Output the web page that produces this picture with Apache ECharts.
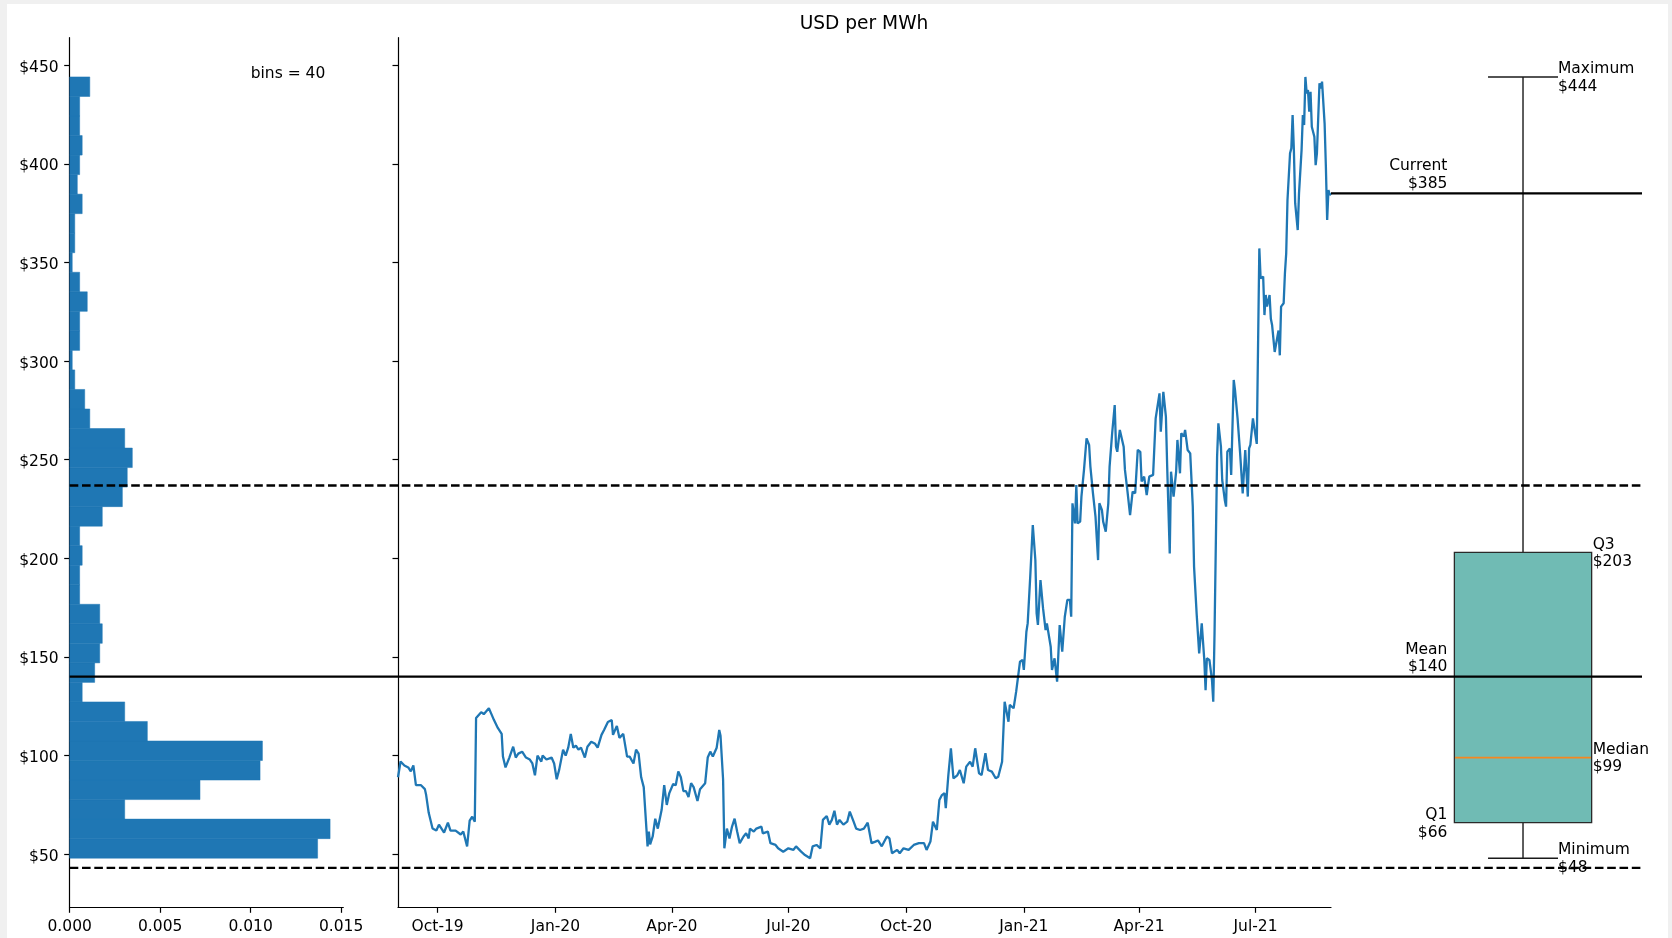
<!DOCTYPE html>
<html>
<head>
<meta charset="utf-8">
<script src="https://cdn.jsdelivr.net/npm/echarts@6/dist/echarts.min.js"></script>
<style>
  html, body { margin: 0; padding: 0; background: #f0f0f0; }
  #chart { position: absolute; left: 7px; top: 4px; width: 1661px; height: 934px; background: #fff; }
</style>
</head>
<body>
<div id="chart"></div>
<script>
// ---- data -------------------------------------------------------------
// Daily price, USD per MWh: [days since 2019-08-31, price]
const START_DATE = '2019-08-31';
const END_DATE = '2021-08-29';
const dailyPrice = [
  [0,89],[2,97],[5,95],[8,94],[10,92],[12,95],[14,85],[18,85],[21,83],[22,80],[24,71],[27,63],[30,62],[32,65],
  [36,61],[39,66],[41,62],[45,62],[49,60],[51,61.5],[54,54],[56,67],[58,69],[60,66.5],[61,119],[65,122],[67,121],
  [71,124],[73,121],[75,118],[78,114],[81,111],[82,99.5],[84,94],[87,99],[90,104.5],[92,99],[94,101],[97,102],
  [100,99],[103,98],[105,96],[107,90],[109,100],[112,97],[113,100],[116,98],[120,99],[122,96],[124,88],[126,93],
  [129,103],[131,100],[133,104],[135,111],[137,104],[139,105],[141,103],[143,104],[146,99],[148,104.5],[151,107],
  [154,106],[156,104],[159,110.5],[161,113],[164,117],[167,118],[168,110.5],[171,115],[173,109],[176,111],
  [179,99.5],[181,99.5],[184,96],[186,103],[188,101],[190,89],[192,84],[193,84],[195,54],[196,61.5],[197,55],
  [199,59],[201,68],[203,63],[206,72.5],[208,85],[210,75],[212,81],[215,85.6],[217,85],[219,92],[221,89],
  [223,82],[225,82],[227,79],[229,86],[231,84],[234,77],[236,83],[240,86],[242,99],[244,102],[246,99.5],
  [249,104],[251,113],[252,110],[254,88],[255,53],[257,63],[259,58],[261,64],[263,68],[265,61.5],[267,55.6],
  [270,59],[272,60.6],[274,58],[275,63],[278,61.5],[280,63],[284,64],[285,60.6],[289,61.5],[291,55.6],
  [295,54.7],[297,53],[301,51.3],[305,53],[309,52.2],[311,54],[315,51.3],[318,49.6],[322,48],[324,54],
  [327,54.7],[330,53],[332,67.4],[335,69.4],[337,65],[339,67.4],[341,72],[343,65],[345,67.4],[348,65],
  [351,66.5],[353,71.6],[356,66.5],[358,63],[361,62.3],[364,63],[367,66],[370,55.6],[373,56.4],[375,57],
  [378,54],[382,59],[384,58],[386,50.5],[390,52.2],[392,50.5],[395,53],[399,52.2],
  [403,54.7],[407,55.6],[411,55.6],[413,52.2],[416,56.4],[418,66.5],[421,62.3],[423,77.5],[425,80],[427,81],
  [428,73.3],[430,90],[432,103.7],[434,88.5],[437,90],[439,92.7],[442,86],[444,94.4],[447,96.9],[449,94.4],
  [451,103.7],[454,91],[456,90.2],[459,101.2],[461,92.7],[464,91.9],[467,88.5],[469,89.3],[472,96.9],
  [474,127.3],[477,117.2],[478,125.7],[481,124],[483,132.4],[486,147.6],[488,148.5],[489,143.4],[491,162.8],
  [492,167],[494,190.7],[496,216.9],[498,199.1],[499,172.1],[500,166.2],[502,189],[504,174.7],[506,163.6],
  [507,167],[510,155.2],[511,143.4],[513,149.3],[515,137.5],[517,166.2],[519,152.7],[521,170.4],[523,178.9],
  [525,178.9],[526,170.4],[527,227.9],[529,217.7],[530,237.2],[531,217.7],[533,218.6],[534,231.3],[536,244.8],
  [538,260.8],[540,257.5],[541,246.5],[543,233],[545,221.1],[547,199.1],[548,227.9],[550,224.5],[551,218.6],
  [553,213.5],[555,227.9],[556,246.5],[558,263.4],[560,277.7],[561,256.6],[562,254],[564,265.1],[567,256.6],
  [568,244.8],[570,233.8],[572,221.9],[574,233.8],[576,233],[578,255],[580,254],[581,238.9],[583,241.4],
  [585,232.1],[587,241.4],[590,242.3],[592,270.9],[593,271.8],[595,283.6],[596,264.2],[598,284.4],[600,271.8],
  [601,246.5],[603,202.5],[604,243.9],[606,231.3],[608,243.9],[609,260],[611,243.1],[612,263.4],[614,261.7],
  [615,265.1],[617,254.9],[619,253.2],[621,226.2],[622,195.8],[624,172.1],[626,151.8],[628,167],[630,148.5],
  [631,133.2],[632,149.3],[634,148.5],[636,138.3],[637,127.3],[638,162],[640,251.5],[641,268.4],[643,256.6],
  [644,239.7],[646,229.6],[647,226.2],[648,254],[650,255.7],[651,242.3],[653,290.4],[654,285.3],[656,270.9],
  [658,253.2],[660,232.9],[662,254.9],[664,231.3],[665,255.7],[666,257.5],[668,270.9],[671,258],[673,357.1],
  [674,341.9],[676,342.8],[677,323.3],[678,333.5],[679,327.6],[681,333.5],[682,321.4],[683,318.1],[685,304.6],
  [686,304.6],[688,315.5],[689,302.9],[690,327.6],[692,329.3],[693,344.5],[694,354.6],[695,381.6],[697,405.3],
  [698,407.8],[699,424.7],[700,406.9],[701,380],[703,366.4],[704,385],[706,406.9],[707,424.7],[708,419.6],
  [709,444],[710,435.7],[711,437.4],[712,426.4],[713,436.5],[714,418.8],[716,413.7],[717,399.3],[718,405.3],
  [720,440.8],[721,438.2],[722,441.6],[723,441.6],[724,420.5],[725,398.5],[726,371.5],[727,386.7],[728,384.2],
  [729,385]
];

// Histogram: 40 bins between the minimum and maximum price, density per bin (bottom bin first)
const HIST_BINS = 40;
const HIST_LOW = 48;
const HIST_HIGH = 444;
const histDensity = [
  0.01370, 0.01439, 0.00304, 0.00720, 0.01052, 0.01065, 0.00429, 0.00304, 0.00069, 0.00138,
  0.00166, 0.00180, 0.00166, 0.00055, 0.00055, 0.00069, 0.00055, 0.00180, 0.00291, 0.00318,
  0.00346, 0.00304, 0.00111, 0.00083, 0.00028, 0.00014, 0.00055, 0.00055, 0.00097, 0.00055,
  0.00014, 0.00028, 0.00028, 0.00069, 0.00042, 0.00055, 0.00069, 0.00055, 0.00055, 0.00111
];

// Summary statistics
const MIN_PRICE = 48;
const Q1_PRICE = 66;
const MEDIAN_PRICE = 99;
const Q3_PRICE = 203;
const MAX_PRICE = 444;
const MEAN_PRICE = 140;
const STD_PRICE = 96.9;
const CURRENT_PRICE = 385;

// Axis ticks
const priceTicks = [50, 100, 150, 200, 250, 300, 350, 400, 450];
const densityTicks = [0, 0.005, 0.010, 0.015];
const dateTicks = ['2019-10-01', '2020-01-01', '2020-04-01', '2020-07-01',
                   '2020-10-01', '2021-01-01', '2021-04-01', '2021-07-01'];
const MONTHS = ['Jan','Feb','Mar','Apr','May','Jun','Jul','Aug','Sep','Oct','Nov','Dec'];

// ---- helpers ----------------------------------------------------------
const DAY_MS = 86400000;
function utc(s) { const p = s.split('-').map(Number); return Date.UTC(p[0], p[1] - 1, p[2]); }
const t0 = utc(START_DATE);
const t1 = utc(END_DATE);
const dateTickValues = dateTicks.map(utc);
function fmtDate(v) {
  const d = new Date(v);
  return MONTHS[d.getUTCMonth()] + '-' + String(d.getUTCFullYear()).slice(2);
}
const lineData = dailyPrice.map(p => [t0 + p[0] * DAY_MS, p[1]]);
const binWidth = (HIST_HIGH - HIST_LOW) / HIST_BINS;
const histData = histDensity.map((d, i) => [d, HIST_LOW + i * binWidth, HIST_LOW + (i + 1) * binWidth]);

// ---- layout / style ---------------------------------------------------
const FONT = 'DejaVu Sans';
const FS = 15.5;
const Y_MIN = 23.1, Y_MAX = 463.9;
const TOP = 33.7, HEIGHT = 869.6;
const AX = { color: '#000', width: 1.2 };
const BLUE = '#1f77b4';

const tickAxis = (extra) => Object.assign({
  axisLine: { show: true, onZero: false, lineStyle: AX },
  axisTick: { show: true, inside: false, length: 5.5, lineStyle: AX },
  splitLine: { show: false }
}, extra);

const labelStyle = { color: '#000', fontSize: FS, fontFamily: FONT };

const chart = echarts.init(document.getElementById('chart'), null, { renderer: 'canvas' });

const option = {
  animation: false,
  backgroundColor: '#fff',
  textStyle: { fontFamily: FONT },
  grid: [
    { left: 62.7, top: TOP, width: 273.6, height: HEIGHT },   // histogram
    { left: 391, top: TOP, width: 933, height: HEIGHT },      // time series
    { left: 1324, top: TOP, width: 311, height: HEIGHT },     // box plot
    { left: 62.7, top: TOP, width: 1572.3, height: HEIGHT }   // reference lines across panels
  ],
  xAxis: [
    tickAxis({
      gridIndex: 0, type: 'value', min: 0, max: 0.01512,
      axisTick: { show: true, length: 5.5, lineStyle: AX, customValues: densityTicks },
      axisLabel: Object.assign({ customValues: densityTicks, margin: 12, formatter: v => v.toFixed(3) }, labelStyle)
    }),
    // dates as millisecond timestamps on a linear axis
    tickAxis({
      gridIndex: 1, type: 'value', min: t0, max: t1,
      axisTick: { show: true, length: 5.5, lineStyle: AX, customValues: dateTickValues },
      axisLabel: Object.assign({ customValues: dateTickValues, margin: 12, formatter: v => fmtDate(v) }, labelStyle)
    }),
    { gridIndex: 2, type: 'value', min: 0, max: 1, show: false },
    { gridIndex: 3, type: 'value', min: 0, max: 1, show: false }
  ],
  yAxis: [
    tickAxis({
      gridIndex: 0, type: 'value', min: Y_MIN, max: Y_MAX,
      axisTick: { show: true, length: 5.5, lineStyle: AX, customValues: priceTicks },
      axisLabel: Object.assign({
        customValues: priceTicks, margin: 11,
        formatter: v => '{p|$' + v + '}',
        rich: { p: { fontSize: FS, fontFamily: FONT, color: '#000', padding: [5, 0, 0, 0] } }
      }, labelStyle)
    }),
    tickAxis({
      gridIndex: 1, type: 'value', min: Y_MIN, max: Y_MAX,
      axisTick: { show: true, length: 5.5, lineStyle: AX, customValues: priceTicks },
      axisLabel: { show: false }
    }),
    { gridIndex: 2, type: 'value', min: Y_MIN, max: Y_MAX, show: false },
    { gridIndex: 3, type: 'value', min: Y_MIN, max: Y_MAX, show: false }
  ],
  graphic: [
    { type: 'text', x: 857, y: 20, style: { text: 'USD per MWh', fill: '#000', fontSize: 18.6, fontFamily: FONT, align: 'center', verticalAlign: 'middle' } },
    { type: 'text', x: 243.7, y: 69.5, style: { text: 'bins = ' + HIST_BINS, fill: '#000', fontSize: FS, fontFamily: FONT, align: 'left', verticalAlign: 'middle' } }
  ],
  series: [
    // price distribution
    {
      type: 'custom', xAxisIndex: 0, yAxisIndex: 0, z: 2,
      data: histData,
      encode: { x: 0, y: [1, 2] },
      renderItem: (params, api) => {
        const a = api.coord([0, api.value(2)]);
        const b = api.coord([api.value(0), api.value(1)]);
        return {
          type: 'rect',
          shape: { x: a[0], y: a[1], width: b[0] - a[0], height: b[1] - a[1] },
          style: { fill: BLUE, stroke: BLUE, lineWidth: 0.5 }
        };
      }
    },
    // daily price
    {
      type: 'line', xAxisIndex: 1, yAxisIndex: 1, z: 2,
      data: lineData, showSymbol: false, symbol: 'none',
      lineStyle: { color: BLUE, width: 2.3 }
    },
    // mean and one standard deviation either side
    {
      type: 'line', xAxisIndex: 3, yAxisIndex: 3, z: 4, symbol: 'none',
      data: [[0, MEAN_PRICE], [1, MEAN_PRICE]],
      lineStyle: { color: '#000', width: 2.3 }
    },
    {
      type: 'line', xAxisIndex: 3, yAxisIndex: 3, z: 4, symbol: 'none',
      data: [[0, MEAN_PRICE + STD_PRICE], [1, MEAN_PRICE + STD_PRICE]],
      lineStyle: { color: '#000', width: 2.3, type: [8.6, 3.7] }
    },
    {
      type: 'line', xAxisIndex: 3, yAxisIndex: 3, z: 4, symbol: 'none',
      data: [[0, MEAN_PRICE - STD_PRICE], [1, MEAN_PRICE - STD_PRICE]],
      lineStyle: { color: '#000', width: 2.3, type: [8.6, 3.7] }
    },
    // current price
    {
      type: 'line', xAxisIndex: 2, yAxisIndex: 2, z: 4, symbol: 'none',
      data: [[0, CURRENT_PRICE], [1, CURRENT_PRICE]],
      lineStyle: { color: '#000', width: 2.3 }
    },
    // box plot with annotations
    {
      type: 'custom', xAxisIndex: 2, yAxisIndex: 2, z: 3,
      data: [[MIN_PRICE, Q1_PRICE, MEDIAN_PRICE, Q3_PRICE, MAX_PRICE, MEAN_PRICE, CURRENT_PRICE]],
      encode: { y: [0, 1, 2, 3, 4] },
      renderItem: (params, api) => {
        const BOX_X = 0.6174, BOX_HALF = 0.2207, CAP_HALF = 0.1125;
        const vMin = api.value(0), vQ1 = api.value(1), vMed = api.value(2), vQ3 = api.value(3),
              vMax = api.value(4), vMean = api.value(5), vCur = api.value(6);
        const px = x => api.coord([x, vMed])[0];
        const py = v => api.coord([BOX_X, v])[1];
        const cx = px(BOX_X), left = px(BOX_X - BOX_HALF), right = px(BOX_X + BOX_HALF);
        const capL = px(BOX_X - CAP_HALF), capR = px(BOX_X + CAP_HALF);
        const yMin = py(vMin), yQ1 = py(vQ1), yMed = py(vMed), yQ3 = py(vQ3), yMax = py(vMax);
        const ink = { stroke: '#1a1a1a', lineWidth: 1.4 };
        const seg = (x1, y1, x2, y2, st) => ({ type: 'line', shape: { x1, y1, x2, y2 }, style: st || ink });
        const NUDGE = 1;
        const txt = (x, y, text, align, valign) => ({
          type: 'text', x, y: y + NUDGE, z2: 10,
          style: { text, fill: '#000', fontSize: FS, fontFamily: FONT, lineHeight: 17.7, align, verticalAlign: valign }
        });
        return {
          type: 'group',
          children: [
            seg(cx, yQ3, cx, yMax),
            seg(cx, yQ1, cx, yMin),
            seg(capL, yMax, capR, yMax),
            seg(capL, yMin, capR, yMin),
            { type: 'rect', shape: { x: left, y: yQ3, width: right - left, height: yQ1 - yQ3 },
              style: { fill: '#70bbb4', stroke: '#2a2a2a', lineWidth: 1.3 } },
            seg(left + 0.7, yMed, right - 0.7, yMed, { stroke: '#f5871f', lineWidth: 1.7 }),
            txt(capR, yMax, 'Maximum\n$' + vMax, 'left', 'middle'),
            txt(capR, yMin, 'Minimum\n$' + vMin, 'left', 'middle'),
            txt(right + 1, yQ3, 'Q3\n$' + vQ3, 'left', 'middle'),
            txt(right + 1, yMed, 'Median\n$' + vMed, 'left', 'middle'),
            txt(left - 7, yQ1, 'Q1\n$' + vQ1, 'right', 'middle'),
            txt(left - 7, py(vMean) - 1.5, 'Mean\n$' + vMean, 'right', 'bottom'),
            txt(left - 7, py(vCur) - 1.5, 'Current\n$' + vCur, 'right', 'bottom')
          ]
        };
      }
    }
  ]
};

chart.setOption(option);
</script>
</body>
</html>
